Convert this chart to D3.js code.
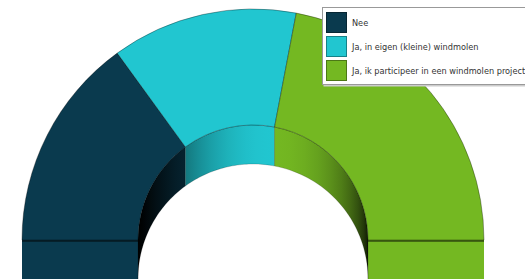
<!DOCTYPE html>
<html>
<head>
<meta charset="utf-8">
<script src="https://cdn.jsdelivr.net/npm/d3@7"></script>
<style>
  body { margin: 0; background: #fff; }
  svg { display: block; }
</style>
</head>
<body>
<div id="chart"></div>
<script>
const categories = ['Nee', 'Ja, in eigen (kleine) windmolen', 'Ja, ik participeer in een windmolen project']
const values = [30, 26, 44]
const colors = ['#0a3a4e', '#21c6d0', '#74b822']

const width = 525
const height = 279
const cx = 253
const cy = 240
const innerR = 115
const outerR = 231
const depth = 39

const svg = d3
  .select('#chart')
  .append('svg')
  .attr('width', width)
  .attr('height', height)

const defs = svg.append('defs')

const pie = d3
  .pie()
  .sort(null)
  .value(d => d.value)
  .startAngle(-Math.PI / 2)
  .endAngle(Math.PI / 2)

const data = categories.map((c, i) => ({ name: c, value: values[i], color: colors[i] }))
const slices = pie(data)

const arc = d3.arc().innerRadius(innerR).outerRadius(outerR)

// point on a ring, d3 angle convention (0 = up, clockwise)
const pt = (r, a, dy = 0) => [cx + r * Math.sin(a), cy - r * Math.cos(a) + dy]

// lighting of the inner wall, brightest slightly right of the top
const light = a => Math.pow(Math.max(0.08, Math.cos(a - 0.17)), 1.4)

const line = d3.line()

// end caps (front faces of the first and last slice)
const caps = [
  { s: slices[0], a: -Math.PI / 2 },
  { s: slices[slices.length - 1], a: Math.PI / 2 }
]
caps.forEach(c => {
  const p = [pt(outerR, c.a), pt(innerR, c.a), pt(innerR, c.a, depth), pt(outerR, c.a, depth)]
  svg
    .append('path')
    .attr('d', line(p) + 'Z')
    .attr('fill', c.s.data.color)
  svg
    .append('path')
    .attr('d', line([pt(outerR, c.a, 1), pt(innerR, c.a, 1)]))
    .attr('stroke', d3.color(c.s.data.color).darker(1.6))
    .attr('stroke-width', 2)
})

// inner walls with a horizontal gradient
slices.forEach((s, i) => {
  const n = 40
  const angles = d3.range(n + 1).map(k => s.startAngle + (s.endAngle - s.startAngle) * k / n)
  const top = angles.map(a => pt(innerR, a))
  const bottom = angles.map(a => pt(innerR, a, depth)).reverse()

  const x0 = top[0][0]
  const x1 = top[n][0]
  const grad = defs
    .append('linearGradient')
    .attr('id', 'wall' + i)
    .attr('gradientUnits', 'userSpaceOnUse')
    .attr('x1', x0)
    .attr('x2', x1)
    .attr('y1', 0)
    .attr('y2', 0)
  const shade = d3.interpolateRgb('#000', s.data.color)
  angles
    .filter((a, k) => k % 4 === 0)
    .forEach(a => {
      grad
        .append('stop')
        .attr('offset', (pt(innerR, a)[0] - x0) / (x1 - x0))
        .attr('stop-color', shade(light(a)))
    })

  svg
    .append('path')
    .attr('d', line(top.concat(bottom)) + 'Z')
    .attr('fill', 'url(#wall' + i + ')')
    .attr('stroke', 'rgba(0,0,0,0.35)')
    .attr('stroke-width', 0.5)
})

// top surface
svg
  .append('g')
  .attr('transform', `translate(${cx},${cy})`)
  .selectAll('path')
  .data(slices)
  .join('path')
  .attr('d', arc)
  .attr('fill', d => d.data.color)
  .attr('stroke', 'rgba(0,0,0,0.55)')
  .attr('stroke-width', 0.6)

// legend
const legend = svg.append('g').attr('transform', 'translate(322,7)')
legend
  .append('rect')
  .attr('x', 1.5)
  .attr('y', 1.5)
  .attr('width', 230)
  .attr('height', 78)
  .attr('fill', '#ccc')
legend
  .append('rect')
  .attr('x', 0.5)
  .attr('y', 0.5)
  .attr('width', 230)
  .attr('height', 77)
  .attr('fill', '#fff')
  .attr('stroke', '#999')

const item = legend
  .selectAll('.item')
  .data(data)
  .join('g')
  .attr('class', 'item')
  .attr('transform', (d, i) => `translate(4,${5 + i * 24})`)

item
  .append('rect')
  .attr('x', 0.5)
  .attr('y', 0.5)
  .attr('width', 20)
  .attr('height', 20)
  .attr('fill', d => d.color)
  .attr('stroke', d => d3.color(d.color).darker(1.2))

item
  .append('text')
  .attr('x', 26)
  .attr('y', 14)
  .attr('font-family', 'DejaVu Sans')
  .attr('font-size', 8.2)
  .attr('fill', '#333')
  .text(d => d.name)
</script>
</body>
</html>
